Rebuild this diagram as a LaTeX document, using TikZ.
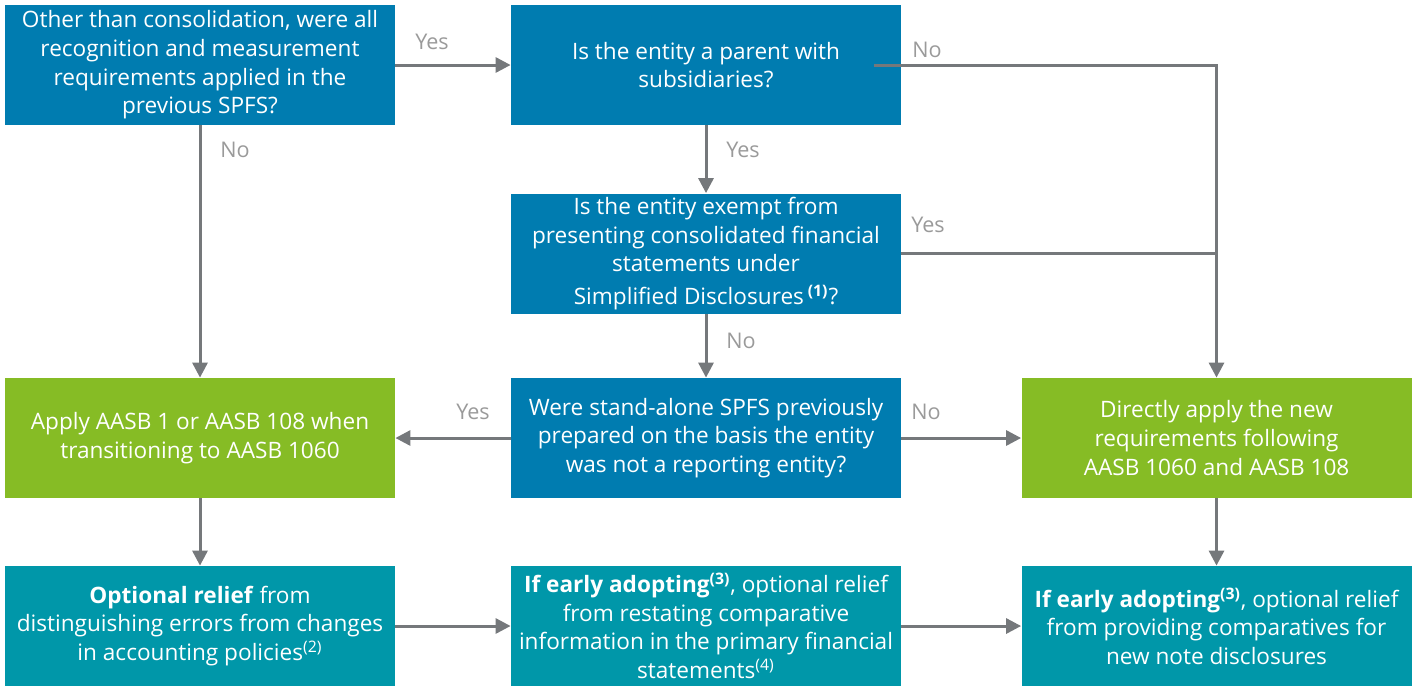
\documentclass[tikz,border=0pt]{standalone}
\usepackage{fontspec}
\setmainfont{Open Sans}
\usetikzlibrary{arrows.meta}
\definecolor{dblue}{HTML}{007CB0}
\definecolor{dgreen}{HTML}{86BC25}
\definecolor{dteal}{HTML}{0097A9}
\definecolor{lgray}{HTML}{75787B}
\definecolor{tgray}{HTML}{9A9A9A}
\tikzset{
  box/.style={minimum width=195pt, minimum height=60pt, inner sep=0pt, align=center, text=white,
    font=\fontsize{11.3pt}{14.3pt}\selectfont},
  bluebox/.style={box, fill=dblue},
  greenbox/.style={box, fill=dgreen},
  tealbox/.style={box, fill=dteal},
  conn/.style={draw=lgray, line width=1.5pt, -{Triangle[length=7.5pt,width=7.5pt]}},
  plainconn/.style={draw=lgray, line width=1.5pt},
  lbl/.style={text=tgray, font=\fontsize{10.8pt}{12pt}\selectfont, inner sep=0pt}
}
\begin{document}
\begin{tikzpicture}[x=0.5pt,y=-0.5pt]
\useasboundingbox (0,0) rectangle (1416,686);
\node[bluebox] (A) at (200,65) {Other than consolidation, were all\\recognition and measurement\\requirements applied in the\\previous SPFS?};
\node[bluebox] (B) at (706,65) {Is the entity a parent with\\subsidiaries?};
\node[bluebox] (C) at (706,253.5) {Is the entity exempt from\\presenting consolidated financial\\statements under\\[2pt]Simplified Disclosures\,\textsuperscript{\textbf{(1)}}?};
\node[bluebox] (D) at (706,438) {Were stand-alone SPFS previously\\prepared on the basis the entity\\was not a reporting entity?};
\node[greenbox] (E) at (200,438) {Apply AASB 1 or AASB 108 when\\transitioning to AASB 1060};
\node[greenbox] (F) at (1216.5,438) {Directly apply the new\\requirements following\\AASB 1060 and AASB 108};
\node[tealbox] (G) at (200,626) {\textbf{Optional relief} from\\distinguishing errors from changes\\in accounting policies\textsuperscript{(2)}};
\node[tealbox] (H) at (706,626) {\textbf{If early adopting\textsuperscript{(3)}}, optional relief\\from restating comparative\\information in the primary financial\\statements\textsuperscript{(4)}};
\node[tealbox] (I) at (1216.5,626) {\textbf{If early adopting\textsuperscript{(3)}}, optional relief\\from providing comparatives for\\new note disclosures};
\coordinate (Bout) at ([xshift=-13.5pt]B.east);
\draw[conn] (A) -- (B);
\draw[conn] (Bout) -| (F.north);
\draw[plainconn] (C.east) -- (C.east -| F.north);
\draw[conn] (A) -- (E);
\draw[conn] (B) -- (C);
\draw[conn] (C) -- (D);
\draw[conn] (D) -- (E);
\draw[conn] (D) -- (F);
\draw[conn] (E) -- (G);
\draw[conn] (F) -- (I);
\draw[conn] (G) -- (H);
\draw[conn] (H) -- (I);
\node[lbl] (l1) at (432,42) {Yes};
\node[lbl] (l2) at (235,150) {No};
\node[lbl] (l3) at (927,50) {No};
\node[lbl] (l4) at (743,150) {Yes};
\node[lbl] (l5) at (928,225) {Yes};
\node[lbl] (l6) at (741,341) {No};
\node[lbl] (l7) at (473,412) {Yes};
\node[lbl] (l8) at (926,412) {No};
\end{tikzpicture}
\end{document}
